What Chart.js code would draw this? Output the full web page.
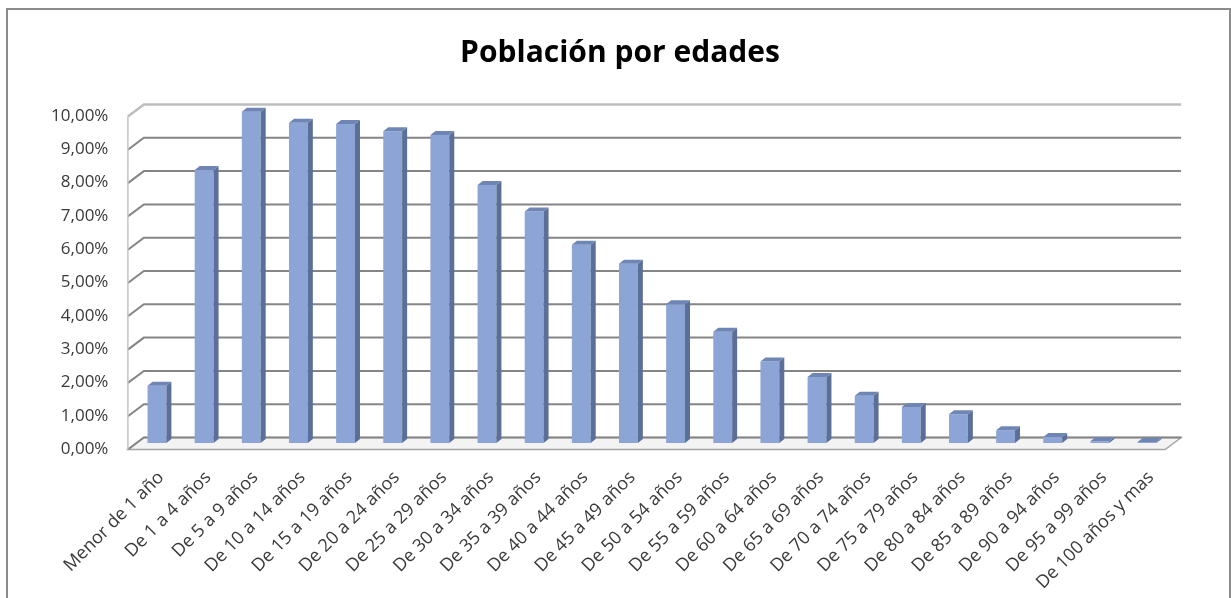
<!DOCTYPE html>
<html>
<head>
<meta charset="utf-8">
<script src="https://cdn.jsdelivr.net/npm/chart.js@4.4.1/dist/chart.umd.min.js"></script>
<style>
    html, body { margin: 0; padding: 0; background: #fff; }
    #frame {
        position: absolute; left: 6px; top: 8px; width: 1221px; height: 600px;
        border: 2px solid #8c8c8c; border-bottom: none;
    }
    #wrap { position: absolute; left: 0; top: 0; width: 1231px; height: 598px; }
</style>
</head>
<body>
<div id="frame"></div>
<div id="wrap"><canvas id="poblacion" width="1231" height="598"></canvas></div>
<script>
const ageGroups = [
    'Menor de 1 año', 'De 1 a 4 años', 'De 5 a 9 años', 'De 10 a 14 años',
    'De 15 a 19 años', 'De 20 a 24 años', 'De 25 a 29 años', 'De 30 a 34 años',
    'De 35 a 39 años', 'De 40 a 44 años', 'De 45 a 49 años', 'De 50 a 54 años',
    'De 55 a 59 años', 'De 60 a 64 años', 'De 65 a 69 años', 'De 70 a 74 años',
    'De 75 a 79 años', 'De 80 a 84 años', 'De 85 a 89 años', 'De 90 a 94 años',
    'De 95 a 99 años', 'De 100 años y mas'
];
// share of population, in percent
const populationShare = [
    1.72, 8.20, 9.95, 9.62, 9.58, 9.36, 9.25, 7.75,
    6.95, 5.95, 5.38, 4.17, 3.34, 2.45, 1.98, 1.42,
    1.08, 0.86, 0.38, 0.18, 0.05, 0.03
];
const yTickMin = 0;
const yTickMax = 10;
const yTickStep = 1;

// fake 3D depth, relative to the plane the bars stand on
const FRONT = { dx: -5.5, dy: 6.5 };
const BACK = { dx: 10.5, dy: -5.5 };
const BAR_DEPTH = { dx: 5, dy: -4 };

const threeD = {
    id: 'threeD',
    beforeDatasetsDraw(chart) {
        const { ctx, chartArea: a, scales: { y } } = chart;
        const y0 = y.getPixelForValue(yTickMin);
        const yTop = y.getPixelForValue(yTickMax);
        ctx.save();

        // floor
        ctx.beginPath();
        ctx.moveTo(a.left + FRONT.dx, y0 + FRONT.dy);
        ctx.lineTo(a.right + FRONT.dx, y0 + FRONT.dy);
        ctx.lineTo(a.right + BACK.dx, y0 + BACK.dy);
        ctx.lineTo(a.left + BACK.dx, y0 + BACK.dy);
        ctx.closePath();
        ctx.fillStyle = '#f3f3f3';
        ctx.fill();
        ctx.strokeStyle = '#a6a6a6';
        ctx.lineWidth = 1.5;
        ctx.stroke();

        // gridlines: left wall diagonal + back wall
        y.ticks.forEach(t => {
            const py = y.getPixelForValue(t.value);
            ctx.beginPath();
            ctx.moveTo(a.left + FRONT.dx, py + FRONT.dy);
            ctx.lineTo(a.left + BACK.dx, py + BACK.dy);
            ctx.lineTo(a.right + BACK.dx, py + BACK.dy);
            ctx.strokeStyle = t.value === yTickMax ? '#bdbdbd' : '#858585';
            ctx.lineWidth = t.value === yTickMax ? 2.5 : 2;
            ctx.stroke();
        });

        // front edge of the left wall
        ctx.beginPath();
        ctx.moveTo(a.left + FRONT.dx, yTop + FRONT.dy);
        ctx.lineTo(a.left + FRONT.dx, y0 + FRONT.dy);
        ctx.strokeStyle = '#c4c4c4';
        ctx.lineWidth = 1.5;
        ctx.stroke();
        ctx.restore();
    },
    afterDatasetsDraw(chart) {
        const { ctx } = chart;
        const meta = chart.getDatasetMeta(0);
        ctx.save();
        meta.data.forEach(bar => {
            const { x, y, base, width } = bar.getProps(['x', 'y', 'base', 'width'], true);
            const l = x - width / 2, r = x + width / 2;
            // side face
            ctx.beginPath();
            ctx.moveTo(r, y);
            ctx.lineTo(r + BAR_DEPTH.dx, y + BAR_DEPTH.dy);
            ctx.lineTo(r + BAR_DEPTH.dx, base + BAR_DEPTH.dy);
            ctx.lineTo(r, base);
            ctx.closePath();
            ctx.fillStyle = '#5b6f98';
            ctx.fill();
            // top face
            ctx.beginPath();
            ctx.moveTo(l, y);
            ctx.lineTo(l + BAR_DEPTH.dx, y + BAR_DEPTH.dy);
            ctx.lineTo(r + BAR_DEPTH.dx, y + BAR_DEPTH.dy);
            ctx.lineTo(r, y);
            ctx.closePath();
            ctx.fillStyle = '#6f86b4';
            ctx.fill();
        });
        ctx.restore();
    }
};

new Chart(document.getElementById('poblacion').getContext('2d'), {
    type: 'bar',
    data: {
        labels: ageGroups,
        datasets: [{
            data: populationShare,
            backgroundColor: '#8ca5d6',
            borderWidth: 0,
            categoryPercentage: 1,
            barPercentage: 0.4
        }]
    },
    options: {
        responsive: false,
        animation: false,
        devicePixelRatio: 1,
        layout: { padding: { left: 9, right: 0, top: 0, bottom: 0 } },
        plugins: {
            legend: { display: false },
            tooltip: { enabled: false },
            title: {
                display: true,
                text: 'Población por edades',
                color: '#000',
                font: { family: "'Open Sans', sans-serif", size: 30, weight: 'bold' },
                padding: { top: 35, bottom: 39 }
            }
        },
        scales: {
            x: {
                grid: { display: false, drawTicks: false },
                border: { display: false },
                ticks: {
                    font: { family: "'Open Sans', sans-serif", size: 18 },
                    color: '#3a3a3a',
                    autoSkip: false,
                    maxRotation: 45,
                    minRotation: 45,
                    padding: 24,
                    labelOffset: 4
                },
                afterFit: scale => { scale.height = 155; }
            },
            y: {
                min: yTickMin,
                max: yTickMax,
                grid: { display: false, drawTicks: false },
                border: { display: false },
                ticks: {
                    stepSize: yTickStep,
                    font: { family: "'Open Sans', sans-serif", size: 17 },
                    color: '#3a3a3a',
                    padding: 25,
                    labelOffset: 6,
                    callback: v => v.toFixed(2).replace('.', ',') + '%'
                },
                afterFit: scale => { scale.width = 124.4; }
            },
            spacer: {
                position: 'right',
                grid: { display: false, drawTicks: false },
                border: { display: false },
                ticks: { display: false },
                afterFit: scale => { scale.width = 60.4; }
            }
        }
    },
    plugins: [threeD]
});
</script>
</body>
</html>
